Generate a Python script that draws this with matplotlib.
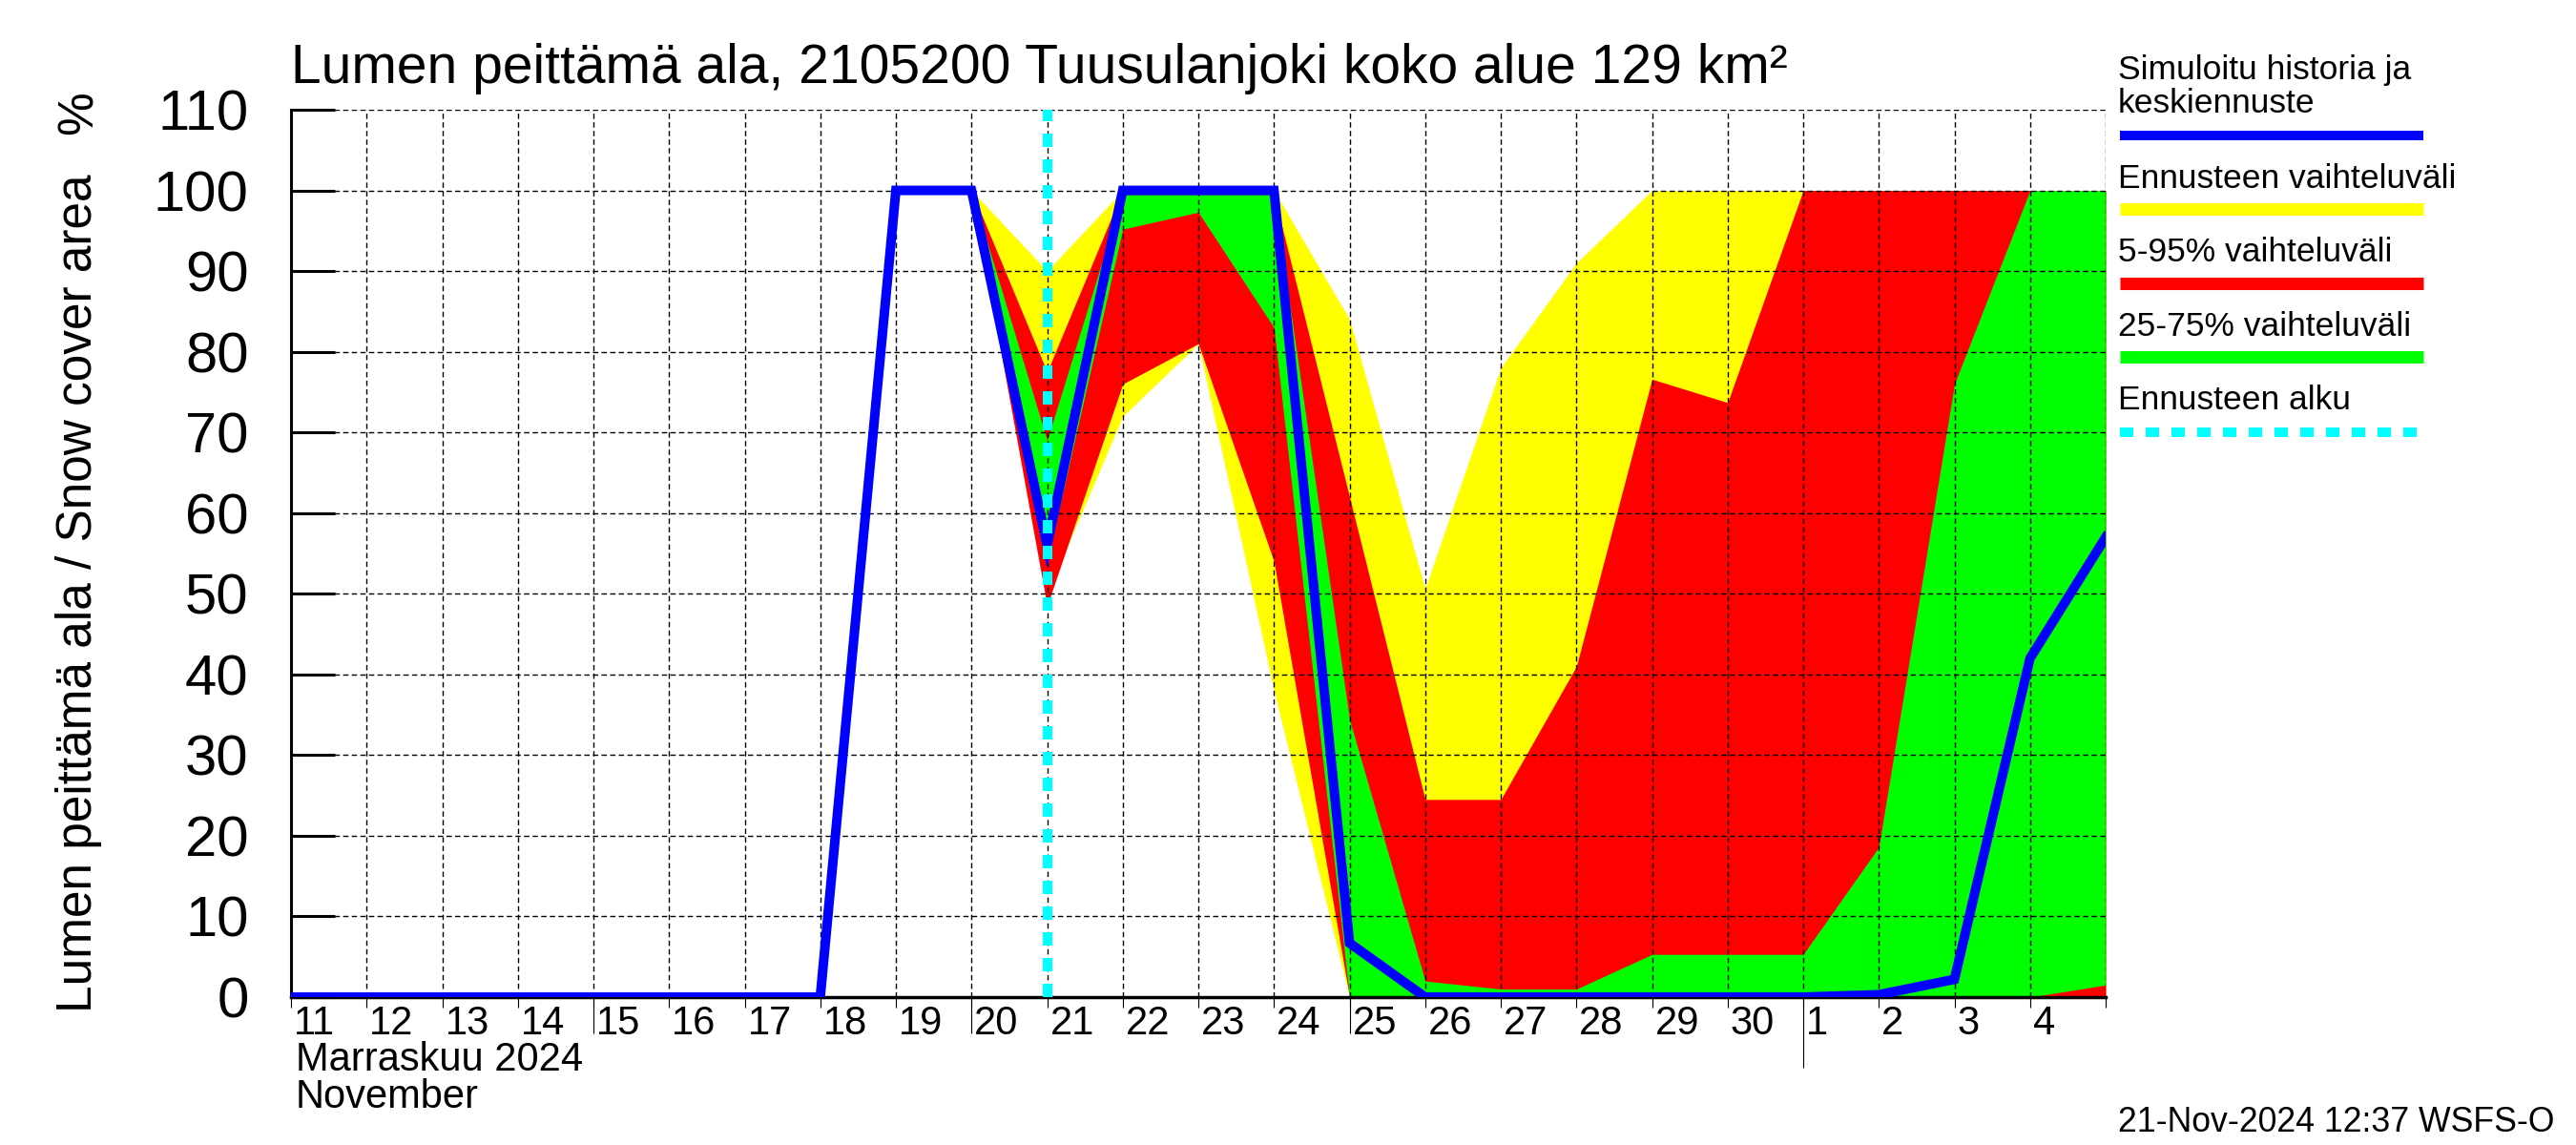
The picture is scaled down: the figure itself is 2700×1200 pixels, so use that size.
import numpy as np
import pandas as pd
import matplotlib
matplotlib.use("Agg")
import matplotlib.pyplot as plt
from matplotlib.lines import Line2D
from matplotlib.transforms import ScaledTranslation, blended_transform_factory

plt.rcParams['font.family'] = ['Liberation Sans', 'DejaVu Sans']

# --- Dados ---
dates = pd.date_range("2024-11-11", "2024-12-05", freq="D")
sim_mean = [0, 0, 0, 0, 0, 0, 0, 0, 100, 100, 56, 100, 100, 100, 6.7,
            0, 0, 0, 0, 0, 0, 0.3, 2.2, 42, 57]

fc_dates = pd.date_range("2024-11-20", "2024-12-05", freq="D")
yellow_lo = [100, 50, 72, 81, 38, 0, 0, 0, 0, 0, 0, 0, 0, 0, 0, 0]
yellow_hi = [100, 90, 100, 100, 100, 84, 50.6, 78, 91, 100, 100, 100, 100, 100, 100, 100]
red_lo = [100, 48.5, 76, 81, 54, 0, 0, 0, 0, 0, 0, 0, 0, 0, 0, 0]
red_hi = [100, 77.5, 100, 100, 99.5, 62, 24.5, 24.5, 41, 76.6, 73.7, 100, 100, 100, 100, 100]
green_lo = [100, 54, 95.2, 97.3, 83, 0, 0, 0, 0, 0, 0, 0, 0, 0, 0, 1.5]
green_hi = [100, 69, 99.5, 99.5, 99.5, 34.4, 2, 1, 1, 5.3, 5.3, 5.3, 18.6, 76, 100, 100]

forecast_start = pd.Timestamp("2024-11-21")
long_ticks = pd.to_datetime(["2024-11-15", "2024-11-20", "2024-11-25"])
month_tick = pd.Timestamp("2024-12-01")

title = "Lumen peittämä ala, 2105200 Tuusulanjoki koko alue 129 km²"
legend_items = [
    (["Simuloitu historia ja", "keskiennuste"], "blue"),
    (["Ennusteen vaihteluväli"], "yellow"),
    (["5-95% vaihteluväli"], "red"),
    (["25-75% vaihteluväli"], "lime"),
    (["Ennusteen alku"], "cyan"),
]

# --- Figura ---
W, H = 2700, 1200
fig = plt.figure(figsize=(27, 12), dpi=100)
ax = fig.add_axes([305 / W, 1 - 1045 / H, (2207 - 305) / W, (1045 - 115) / H])

ax.fill_between(fc_dates, yellow_lo, yellow_hi, color="yellow", lw=0, zorder=1)
ax.fill_between(fc_dates, red_lo, red_hi, color="red", lw=0, zorder=1.1)
ax.fill_between(fc_dates, green_lo, green_hi, color="lime", lw=0, zorder=1.2)
ax.plot(dates, sim_mean, color="blue", lw=7.2, zorder=3, solid_joinstyle="miter")
ax.axvline(forecast_start, color="cyan", lw=7.2, ls=(0, (1.4, 1.3)), zorder=4)

ax.set_xlim(dates[0], dates[-1])
ax.set_ylim(0, 110)
ax.set_yticks(np.arange(0, 111, 10))
ax.tick_params(axis="y", direction="in", length=33, width=2.2, labelsize=43, pad=32)

ax.set_xticks(dates)
ax.set_xticklabels([str(d.day) for d in dates[:-1]] + [""])
ax.tick_params(axis="x", direction="out", length=8, width=0.8, labelsize=30, pad=-2)
offset = ScaledTranslation(3 / 100, 0, fig.dpi_scale_trans)
for lab in ax.get_xticklabels():
    lab.set_horizontalalignment("left")
    lab.set_transform(lab.get_transform() + offset)

ax.grid(True, color="black", ls=(0, (4, 2.5)), lw=1.0)
ax.set_axisbelow(False)
for s in ["top", "right"]:
    ax.spines[s].set_visible(False)
ax.spines["left"].set_linewidth(2.2)
ax.spines["bottom"].set_linewidth(2.5)

# ticks mais longos
trans = blended_transform_factory(ax.transData, ax.transAxes)
ax.vlines(long_ticks, -38 / 930, 0, transform=trans, color="black", lw=0.8, clip_on=False)
ax.vlines([month_tick], -74 / 930, 0, transform=trans, color="black", lw=0.8, clip_on=False)

# --- Textos ---
fig.text(305 / W, 1 - 87 / H, title, fontsize=41, ha="left", va="baseline")
fig.text(83 / W, 1 - 622 / H, "Lumen peittämä ala / Snow cover area", fontsize=37,
         rotation=90, ha="center", va="center")
fig.text(83 / W, 1 - 118 / H, "%", fontsize=37, rotation=90, ha="center", va="center")
fig.text(310 / W, 1 - 1111 / H, "Marraskuu 2024", fontsize=30, ha="left", va="center")
fig.text(310 / W, 1 - 1150 / H, "November", fontsize=30, ha="left", va="center")
fig.text(2678 / W, 1 - 1176 / H, "21-Nov-2024 12:37 WSFS-O", fontsize=25.7, ha="right", va="center")

# --- Legenda manual ---
baselines = [[83, 118], [197], [274], [352], [429]]
line_y = [142, 219, 297, 374, 453]
x0, x1 = 2222 / W, 2540 / W
for (texts, col), bls, ly in zip(legend_items, baselines, line_y):
    for t, b in zip(texts, bls):
        fig.text(2220 / W, 1 - b / H, t, fontsize=25.5, ha="left", va="baseline")
    if col == "cyan":
        ln = Line2D([x0, x1], [1 - ly / H] * 2, transform=fig.transFigure,
                    color=col, lw=7.2, ls=(0, (1.4, 1.3)))
    elif col == "blue":
        ln = Line2D([x0, x1], [1 - ly / H] * 2, transform=fig.transFigure,
                    color=col, lw=7.2, solid_capstyle="butt")
    else:
        ln = Line2D([x0, x1], [1 - ly / H] * 2, transform=fig.transFigure,
                    color=col, lw=9.4, solid_capstyle="butt")
    fig.add_artist(ln)

fig.savefig("out.png", dpi=100)
plt.close()
